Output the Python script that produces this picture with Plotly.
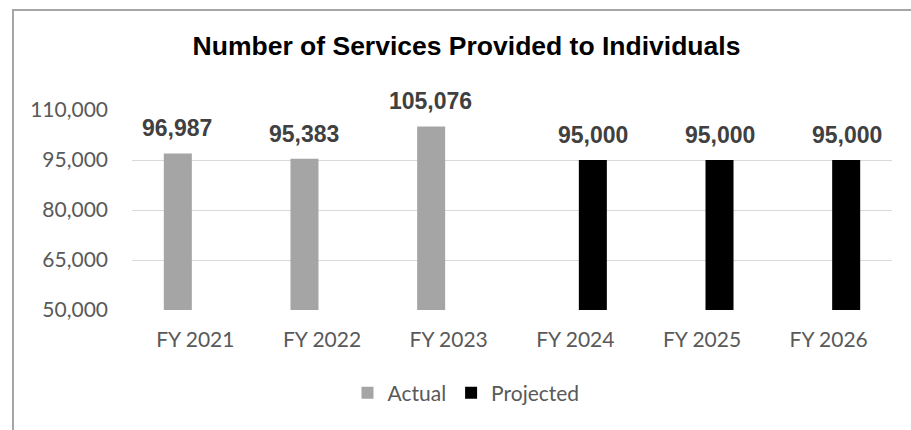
import plotly.graph_objects as go

# Fiscal years and service counts
years = ["FY 2021", "FY 2022", "FY 2023", "FY 2024", "FY 2025", "FY 2026"]
actual = [96987, 95383, 105076, None, None, None]
projected = [None, None, None, 95000, 95000, 95000]
y_ticks = [50000, 65000, 80000, 95000, 110000]

W, H = 911, 430
M_L, M_R, M_T, M_B = 132, 19, 110, 120
TICK_FONT = dict(family="Lato, Calibri, sans-serif", size=21, color="#595959")
LABEL_FONT = dict(family="Liberation Sans, Arial, sans-serif", size=23, color="#404040")

fig = go.Figure()
fig.add_trace(go.Bar(name="Actual", x=years, y=actual, marker_color="#a5a5a5",
                     marker_line_width=0, hoverinfo="x+y"))
fig.add_trace(go.Bar(name="Projected", x=years, y=projected, marker_color="#000000",
                     marker_line_width=0, hoverinfo="x+y"))

# Value labels above each bar, nudged over the grouped bar position
annotations = []
for series, shift in ((actual, -18), (projected, 18)):
    for yr, v in zip(years, series):
        if v is None:
            continue
        annotations.append(dict(
            x=yr, y=v, xref="x", yref="y", text=f"<b>{v:,}</b>",
            showarrow=False, yanchor="bottom", xanchor="center",
            xshift=shift, yshift=10, font=LABEL_FONT,
        ))

# Chart frame (left and top edges fall inside the page)
plot_w = W - M_L - M_R
plot_h = H - M_T - M_B
x0 = (13 - M_L) / plot_w
y1 = (H - M_B - 10) / plot_h
fig.add_shape(type="rect", xref="paper", yref="paper",
              x0=x0, x1=1.1, y0=-0.8, y1=y1,
              line=dict(color="#a6a6a6", width=2), fillcolor="rgba(0,0,0,0)",
              layer="below")

fig.update_layout(
    width=W, height=H,
    margin=dict(l=M_L, r=M_R, t=M_T, b=M_B),
    paper_bgcolor="white", plot_bgcolor="white",
    title=dict(text="<b>Number of Services Provided to Individuals</b>",
               x=466.5 / W, xref="container", xanchor="center",
               y=1 - 46 / H, yref="container", yanchor="middle",
               font=dict(family="Liberation Sans, Arial, sans-serif", size=26.5, color="#000000")),
    barmode="group", bargap=0.447, bargroupgap=0.2,
    showlegend=True,
    legend=dict(orientation="h", xref="container", yref="container",
                x=466 / W, xanchor="center", y=1 - 393 / H, yanchor="middle",
                font=TICK_FONT, itemclick=False),
    annotations=annotations,
    xaxis=dict(showgrid=False, showline=False, ticks="", tickfont=TICK_FONT,
               ticklabelstandoff=15),
    yaxis=dict(range=[50000, 110000], tickvals=y_ticks,
               ticktext=[f"{t:,}" for t in y_ticks],
               showgrid=True, gridcolor="#d9d9d9", gridwidth=1.3,
               zeroline=False, showline=False, ticks="", tickfont=TICK_FONT,
               ticklabelstandoff=23),
)

fig.write_html("out.html")
